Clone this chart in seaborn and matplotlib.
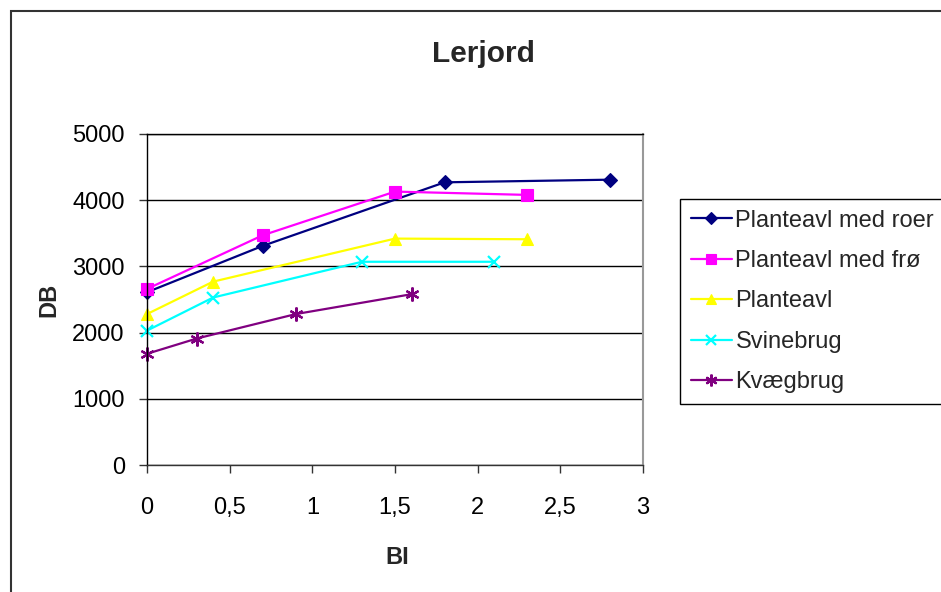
import matplotlib
matplotlib.use("Agg")
import matplotlib.pyplot as plt
from matplotlib.patches import Rectangle
import seaborn as sns
import pandas as pd

# ---- data ----
series_names = ["Planteavl med roer", "Planteavl med frø", "Planteavl", "Svinebrug", "Kvægbrug"]
bi_roer = [0, 0.7, 1.8, 2.8]
db_roer = [2610, 3310, 4270, 4310]
bi_froe = [0, 0.7, 1.5, 2.3]
db_froe = [2660, 3470, 4130, 4080]
bi_plante = [0, 0.4, 1.5, 2.3]
db_plante = [2280, 2770, 3420, 3410]
bi_svin = [0, 0.4, 1.3, 2.1]
db_svin = [2030, 2530, 3070, 3070]
bi_kvaeg = [0, 0.3, 0.9, 1.6]
db_kvaeg = [1680, 1910, 2280, 2580]

x_ticks = [0, 0.5, 1, 1.5, 2, 2.5, 3]
x_ticklabels = ["0", "0,5", "1", "1,5", "2", "2,5", "3"]
y_ticks = [0, 1000, 2000, 3000, 4000, 5000]

title = "Lerjord"
x_label = "BI"
y_label = "DB"

series_x = [bi_roer, bi_froe, bi_plante, bi_svin, bi_kvaeg]
series_y = [db_roer, db_froe, db_plante, db_svin, db_kvaeg]

colors = {"Planteavl med roer": "#000080", "Planteavl med frø": "#FF00FF",
          "Planteavl": "#FFFF00", "Svinebrug": "#00FFFF", "Kvægbrug": "#800080"}
markers = {"Planteavl med roer": "D", "Planteavl med frø": "s",
           "Planteavl": "^", "Svinebrug": "x", "Kvægbrug": (6, 2, 0)}
msizes = {"Planteavl med roer": 7, "Planteavl med frø": 8.5,
          "Planteavl": 9, "Svinebrug": 9, "Kvægbrug": 10}

sns.set_theme(style="white")
plt.rcParams["font.family"] = ["Liberation Sans", "DejaVu Sans"]

fig = plt.figure(figsize=(9.41, 5.92), dpi=100)
ax = fig.add_axes([147/941, 1-465/592, (643-147)/941, (465-134)/592])

for name, xs, ys in zip(series_names, series_x, series_y):
    d = pd.DataFrame({"BI": xs, "DB": ys})
    c = colors[name]
    sns.lineplot(data=d, x="BI", y="DB", color=c, marker=markers[name],
                 markersize=msizes[name], markerfacecolor=c, markeredgecolor=c,
                 markeredgewidth=1.6 if name in ("Svinebrug", "Kvægbrug") else 0.8,
                 sort=False, linewidth=1.6, label=name, legend=False, ax=ax,
                 clip_on=False)

ax.set_xlim(0, 3)
ax.set_ylim(0, 5000)
ax.set_xticks(x_ticks)
ax.set_xticklabels(x_ticklabels)
ax.set_yticks(y_ticks)
ax.tick_params(axis="both", labelsize=17, length=6, width=1, direction="out",
               colors="#333333", labelcolor="black", bottom=True, left=True)
ax.tick_params(axis="y", pad=10)
ax.tick_params(axis="x", pad=17)
ax.yaxis.grid(True, color="black", linewidth=1)
ax.xaxis.grid(False)
ax.set_axisbelow(True)
for s in ["left", "bottom", "top"]:
    ax.spines[s].set_color("black")
    ax.spines[s].set_linewidth(1)
ax.spines["bottom"].set_color("#333333")
ax.spines["right"].set_color("#999999")
ax.spines["right"].set_linewidth(1.5)

ax.set_xlabel(x_label, fontsize=17, fontweight="bold")
ax.set_ylabel(y_label, fontsize=17, fontweight="bold")
ax.xaxis.set_label_coords(0.504, -0.245)
ax.yaxis.set_label_coords(-0.175, 0.5)

fig.text(483/941, 1-62/592, title, ha="center", va="baseline",
         fontsize=21.5, fontweight="bold")

leg = fig.legend(handles=ax.lines[:5], labels=series_names,
                 loc="upper left", bbox_to_anchor=(680/941, 1-199/592),
                 frameon=True, fancybox=False, shadow=False, framealpha=1,
                 edgecolor="black", fontsize=17, handlelength=1.75,
                 handletextpad=0.15, labelspacing=0.78, borderpad=0.45,
                 borderaxespad=0)
leg.get_frame().set_linewidth(1)
for h in leg.legend_handles:
    h.set_markersize(h.get_markersize() * 0.85)

fig.add_artist(Rectangle((11/941, -0.2), 1.5, (592-11)/592 + 0.2,
                         transform=fig.transFigure, fill=False,
                         edgecolor="#333333", linewidth=1.5, clip_on=False))

fig.savefig("out.png", dpi=100)
